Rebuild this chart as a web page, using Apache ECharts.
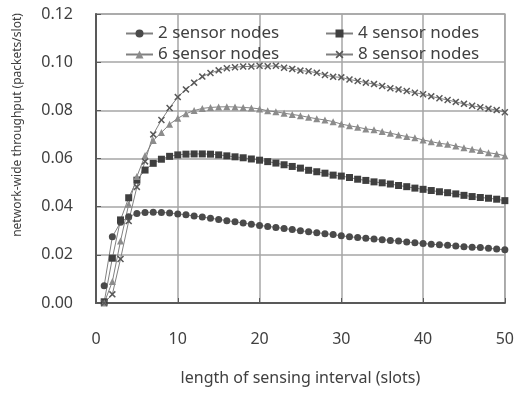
<!DOCTYPE html>
<html>
<head>
<meta charset="utf-8">
<script src="https://cdn.jsdelivr.net/npm/echarts@6/dist/echarts.min.js"></script>
<style>
  html, body { margin: 0; padding: 0; background: #fff; }
  #chart { width: 517px; height: 394px; }
</style>
</head>
<body>
<div id="chart"></div>
<script>
  // sensing interval (slots) 1..50
  const slots = [
    1, 2, 3, 4, 5, 6, 7, 8, 9, 10, 11, 12, 13, 14, 15, 16, 17, 18, 19, 20,
    21, 22, 23, 24, 25, 26, 27, 28, 29, 30, 31, 32, 33, 34, 35, 36, 37, 38, 39, 40,
    41, 42, 43, 44, 45, 46, 47, 48, 49, 50
  ];
  const nodes2 = [
    0.0072, 0.0275, 0.0335, 0.0358, 0.0372, 0.0376, 0.0377, 0.0376, 0.0374, 0.0370,
    0.0366, 0.0361, 0.0357, 0.0352, 0.0347, 0.0342, 0.0337, 0.0332, 0.0327, 0.0322,
    0.0318, 0.0314, 0.0309, 0.0305, 0.0300, 0.0296, 0.0292, 0.0288, 0.0284, 0.0279,
    0.0275, 0.0272, 0.0269, 0.0266, 0.0263, 0.0260, 0.0257, 0.0253, 0.0250, 0.0247,
    0.0244, 0.0242, 0.0240, 0.0237, 0.0234, 0.0232, 0.0230, 0.0227, 0.0224, 0.0221
  ];
  const nodes4 = [
    0.0005, 0.0186, 0.0345, 0.0437, 0.0510, 0.0552, 0.0580, 0.0597, 0.0609, 0.0615,
    0.0618, 0.0619, 0.0619, 0.0618, 0.0615, 0.0611, 0.0607, 0.0603, 0.0598, 0.0593,
    0.0587, 0.0581, 0.0574, 0.0567, 0.0560, 0.0551, 0.0545, 0.0539, 0.0531, 0.0527,
    0.0521, 0.0514, 0.0509, 0.0503, 0.0499, 0.0494, 0.0488, 0.0483, 0.0477, 0.0472,
    0.0467, 0.0462, 0.0458, 0.0453, 0.0447, 0.0442, 0.0438, 0.0435, 0.0431, 0.0425
  ];
  const nodes6 = [
    0.0000, 0.0089, 0.0257, 0.0410, 0.0525, 0.0612, 0.0675, 0.0708, 0.0742, 0.0767,
    0.0786, 0.0799, 0.0808, 0.0812, 0.0814, 0.0815, 0.0814, 0.0812, 0.0810, 0.0806,
    0.0798, 0.0794, 0.0788, 0.0783, 0.0778, 0.0771, 0.0765, 0.0760, 0.0753, 0.0743,
    0.0736, 0.0730, 0.0723, 0.0719, 0.0712, 0.0705, 0.0698, 0.0691, 0.0686, 0.0677,
    0.0670, 0.0663, 0.0659, 0.0652, 0.0645, 0.0638, 0.0633, 0.0624, 0.0619, 0.0611
  ];
  const nodes8 = [
    0.0000, 0.0036, 0.0183, 0.0340, 0.0482, 0.0588, 0.0700, 0.0760, 0.0810, 0.0855,
    0.0887, 0.0915, 0.0940, 0.0955, 0.0966, 0.0975, 0.0979, 0.0982, 0.0982, 0.0985,
    0.0983, 0.0985, 0.0977, 0.0972, 0.0965, 0.0962, 0.0956, 0.0947, 0.0939, 0.0937,
    0.0928, 0.0922, 0.0915, 0.0909, 0.0901, 0.0892, 0.0887, 0.0880, 0.0873, 0.0867,
    0.0858, 0.0850, 0.0843, 0.0835, 0.0827, 0.0819, 0.0813, 0.0807, 0.0801, 0.0792
  ];
  const seriesNames = ['2 sensor nodes', '4 sensor nodes', '6 sensor nodes', '8 sensor nodes'];
  const xTicks = [0, 10, 20, 30, 40, 50];
  const yTicks = [0, 0.02, 0.04, 0.06, 0.08, 0.10, 0.12];

  const font = '"Noto Sans", "Open Sans", sans-serif';
  const textColor = '#404040';
  const lineColor = '#808080';
  // x shaped marker
  const crossSymbol = 'path://M0,1.5L1.5,0L5,3.5L8.5,0L10,1.5L6.5,5L10,8.5L8.5,10L5,6.5L1.5,10L0,8.5L3.5,5Z';

  const toPairs = (arr) => arr.map((v, i) => [slots[i], v]);

  const makeSeries = (name, data, symbol, size, color) => ({
    name: name,
    type: 'line',
    data: toPairs(data),
    symbol: symbol,
    symbolSize: size,
    showAllSymbol: true,
    lineStyle: { color: lineColor, width: 1 },
    itemStyle: { color: color },
    emphasis: { disabled: true },
    animation: false
  });

  const legendBase = {
    orient: 'vertical',
    top: 25,
    padding: 0,
    itemWidth: 27,
    itemHeight: 10,
    itemGap: 4,
    textStyle: { fontSize: 17, color: textColor, fontFamily: font }
  };

  const chart = echarts.init(document.getElementById('chart'));
  chart.setOption({
    textStyle: { fontFamily: font },
    grid: {
      left: 96,
      right: 9,
      top: 14,
      bottom: 91,
      show: true,
      borderColor: '#a6a6a6',
      borderWidth: 1.5
    },
    // two columns of legend, each one stacked vertically
    legend: [
      Object.assign({}, legendBase, { data: [seriesNames[0], seriesNames[2]], left: 125 }),
      Object.assign({}, legendBase, { data: [seriesNames[1], seriesNames[3]], left: 325 })
    ],
    xAxis: {
      type: 'value',
      min: xTicks[0],
      max: xTicks[xTicks.length - 1],
      interval: 10,
      name: 'length of sensing interval (slots)',
      nameLocation: 'middle',
      nameGap: 67,
      nameTextStyle: { fontSize: 16, color: textColor, fontFamily: font },
      axisLine: { lineStyle: { color: '#595959', width: 2 } },
      axisTick: { inside: true, length: 5, lineStyle: { color: '#595959' } },
      axisLabel: { fontSize: 16, color: textColor, margin: 28, fontFamily: font },
      splitLine: { lineStyle: { color: '#a6a6a6', width: 1.5 } }
    },
    yAxis: {
      type: 'value',
      min: yTicks[0],
      max: yTicks[yTicks.length - 1],
      interval: 0.02,
      axisLine: { show: true, lineStyle: { color: '#595959', width: 2 } },
      axisTick: { show: true, inside: true, length: 5, lineStyle: { color: '#595959' } },
      axisLabel: {
        fontSize: 16,
        color: textColor,
        margin: 23,
        fontFamily: font,
        formatter: (v) => v.toFixed(2)
      },
      splitLine: { lineStyle: { color: '#a6a6a6', width: 1.5 } }
    },
    // rotated y axis title, sits above the centre like the original
    graphic: [{
      type: 'text',
      x: 18,
      y: 125,
      rotation: Math.PI / 2,
      style: {
        text: 'network-wide throughput (packets/slot)',
        fill: textColor,
        font: '12px ' + font,
        align: 'center',
        verticalAlign: 'middle'
      }
    }],
    series: [
      makeSeries(seriesNames[0], nodes2, 'circle', 7, '#4a4a4a'),
      makeSeries(seriesNames[1], nodes4, 'rect', 7, '#3f3f3f'),
      makeSeries(seriesNames[2], nodes6, 'triangle', 7, '#8c8c8c'),
      makeSeries(seriesNames[3], nodes8, crossSymbol, 7, '#595959')
    ]
  });

  window.onresize = function () {
    chart.resize()
  }
</script>
</body>
</html>
